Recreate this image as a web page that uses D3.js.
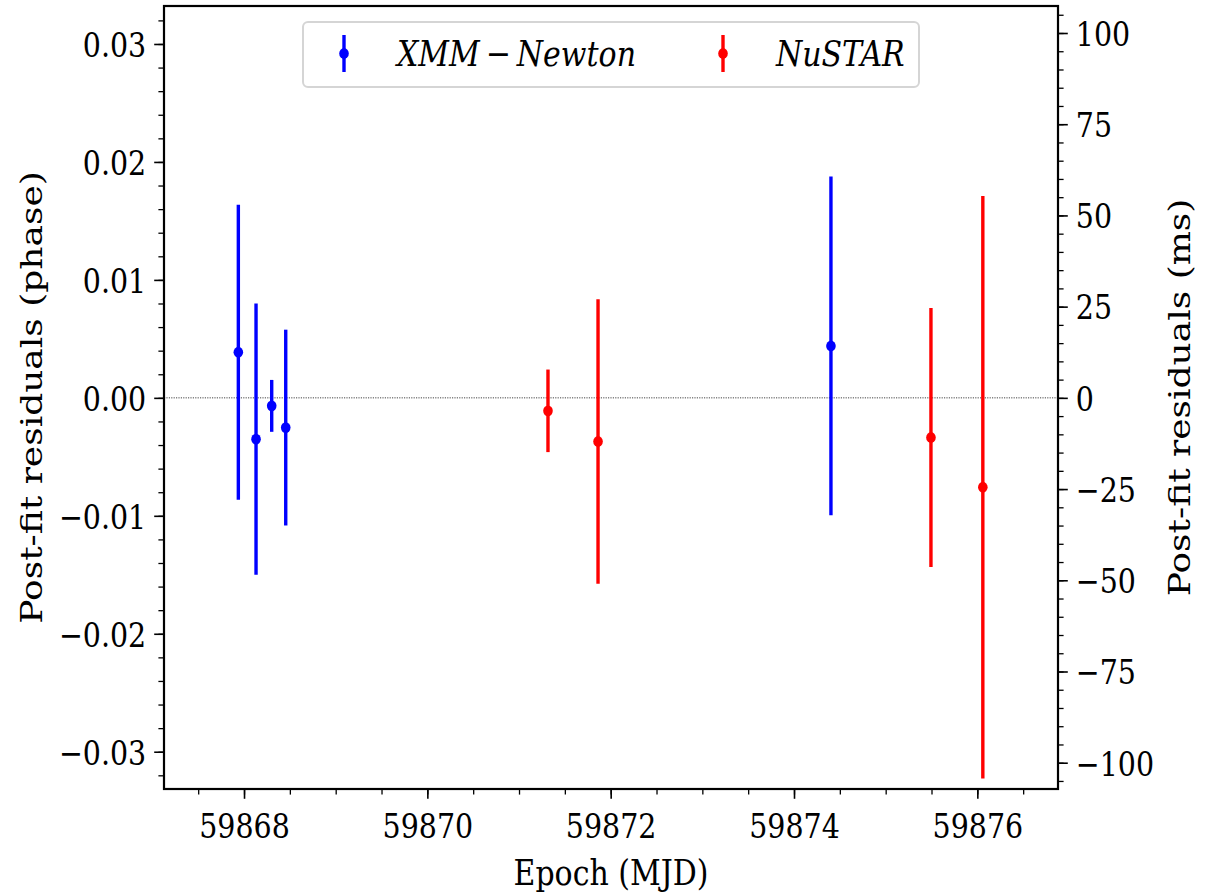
<!DOCTYPE html>
<html><head><meta charset="utf-8">
<script src="https://cdn.jsdelivr.net/npm/d3@7"></script>
<style>body{margin:0;background:#fff}svg{display:block}text{font-family:"DejaVu Serif",serif;fill:#000}</style>
</head><body><svg id="c" width="1215" height="893"></svg>
<script>
// ---- data ----
const xmmEpoch = [59867.938, 59868.131, 59868.302, 59868.455, 59874.403];
const xmmResid = [0.00387, -0.00350, -0.00068, -0.00252, 0.00440];
const xmmErr   = [0.01250, 0.01150, 0.00220, 0.00830, 0.01436];
const nuEpoch  = [59871.316, 59871.862, 59875.494, 59876.060];
const nuResid  = [-0.00110, -0.00370, -0.00336, -0.00758];
const nuErr    = [0.00350, 0.01206, 0.01097, 0.02470];
const xTicks = [59868, 59870, 59872, 59874, 59876];
const yTicksPhase = [-0.03, -0.02, -0.01, 0.00, 0.01, 0.02, 0.03];
const yTicksMs = [-100, -75, -50, -25, 0, 25, 50, 75, 100];
const periodMs = 3233;
const seriesNames = ["XMM\u2009\u2212\u2009Newton", "NuSTAR"];
const seriesColors = ["#0000ff", "#ff0000"];

const W = 1215, H = 893;
const m = {l:164, t:6, r:157, b:104};
const S = 1.2; // vertical stretch of glyphs
const svg = d3.select("#c");
const x = d3.scaleLinear().domain([59867.127, 59876.88]).range([m.l, W - m.r]);
const y = d3.scaleLinear().domain([-0.03316, 0.03322]).range([H - m.b, m.t]);
const y2 = d3.scaleLinear().domain(y.domain().map(d => d * periodMs)).range(y.range());

const fs = 28.5, fl = 30;
const fmt = d => d3.format(".2f")(d).replace("-", "\u2212");
const fmtI = d => String(d).replace("-", "\u2212");

function styleAxis(g, minorG, kind) {
  g.select(".domain").remove();
  g.selectAll(".tick line").attr("stroke", "#000").attr("stroke-width", 1.6);
  const t = g.selectAll(".tick text").attr("font-size", fs).attr("font-family", "DejaVu Serif");
  if (kind === "bottom") {
    t.attr("dy", 0).attr("y", 49 / S).attr("transform", `scale(1,${S})`);
  } else {
    t.attr("dy", "0.36em").attr("y", 0).attr("transform", `scale(1,${S})`);
  }
  minorG.select(".domain").remove();
  minorG.selectAll(".tick line").attr("stroke", "#000").attr("stroke-width", 1.3);
  minorG.selectAll(".tick text").remove();
}

// zero line
svg.append("line").attr("x1", m.l).attr("x2", W - m.r).attr("y1", y(0)).attr("y2", y(0))
  .attr("stroke", "#444").attr("stroke-width", 1).attr("stroke-dasharray", "1.2,1.2");

// x axis
const xMinor = d3.range(59867.5, 59877, 0.5);
const gxm = svg.append("g").attr("transform", `translate(0,${H - m.b})`)
  .call(d3.axisBottom(x).tickValues(xMinor).tickSize(5.6).tickFormat(""));
const gx = svg.append("g").attr("transform", `translate(0,${H - m.b})`)
  .call(d3.axisBottom(x).tickValues(xTicks).tickSize(9.8).tickPadding(8).tickFormat(d3.format("d")));
styleAxis(gx, gxm, "bottom");

// left y axis
const yMinor = d3.range(-0.032, 0.0331, 0.002);
const gym = svg.append("g").attr("transform", `translate(${m.l},0)`)
  .call(d3.axisLeft(y).tickValues(yMinor).tickSize(5.6).tickFormat(""));
const gy = svg.append("g").attr("transform", `translate(${m.l},0)`)
  .call(d3.axisLeft(y).tickValues(yTicksPhase).tickSize(9.8).tickPadding(8).tickFormat(fmt));
styleAxis(gy, gym, "left");

// right y axis
const y2Minor = d3.range(-105, 106, 5);
const gy2m = svg.append("g").attr("transform", `translate(${W - m.r},0)`)
  .call(d3.axisRight(y2).tickValues(y2Minor).tickSize(5.6).tickFormat(""));
const gy2 = svg.append("g").attr("transform", `translate(${W - m.r},0)`)
  .call(d3.axisRight(y2).tickValues(yTicksMs).tickSize(9.8).tickPadding(8).tickFormat(fmtI));
styleAxis(gy2, gy2m, "right");

// frame
svg.append("rect").attr("x", m.l).attr("y", m.t).attr("width", W - m.l - m.r).attr("height", H - m.t - m.b)
  .attr("fill", "none").attr("stroke", "#000").attr("stroke-width", 2.2);

// series
function drawSeries(ep, res, err, color) {
  const g = svg.append("g");
  ep.forEach((e, i) => {
    g.append("line").attr("x1", x(e)).attr("x2", x(e))
      .attr("y1", y(res[i] - err[i])).attr("y2", y(res[i] + err[i]))
      .attr("stroke", color).attr("stroke-width", 3.4);
    g.append("ellipse").attr("cx", x(e)).attr("cy", y(res[i])).attr("rx", 4.8).attr("ry", 5.4).attr("fill", color);
  });
}
drawSeries(xmmEpoch, xmmResid, xmmErr, seriesColors[0]);
drawSeries(nuEpoch, nuResid, nuErr, seriesColors[1]);

// legend
const lg = svg.append("g");
lg.append("rect").attr("x", 303).attr("y", 22).attr("width", 616).attr("height", 65).attr("rx", 5)
  .attr("fill", "#fff").attr("fill-opacity", 0.8).attr("stroke", "#d5d5d5").attr("stroke-width", 2);
const legX = [344, 723], legT = [397, 776];
seriesNames.forEach((n, i) => {
  lg.append("line").attr("x1", legX[i]).attr("x2", legX[i]).attr("y1", 35).attr("y2", 72)
    .attr("stroke", seriesColors[i]).attr("stroke-width", 3.4);
  lg.append("ellipse").attr("cx", legX[i]).attr("cy", 53.5).attr("rx", 4.8).attr("ry", 5.4).attr("fill", seriesColors[i]);
  lg.append("text").attr("transform", `translate(${legT[i]},66) scale(1,${S})`)
    .attr("font-size", fl).attr("font-style", "italic").text(n);
});

// axis labels
svg.append("text").attr("transform", `translate(${(m.l + W - m.r) / 2},885) scale(1,${S})`).attr("text-anchor", "middle")
  .attr("font-size", fl).text("Epoch (MJD)");
svg.append("text").attr("transform", `translate(42,${(m.t + H - m.b) / 2}) rotate(-90) scale(${S},1)`).attr("text-anchor", "middle")
  .attr("font-size", fl).text("Post-fit residuals (phase)");
svg.append("text").attr("transform", `translate(1190,${(m.t + H - m.b) / 2}) rotate(-90) scale(${S},1)`).attr("text-anchor", "middle")
  .attr("font-size", fl).text("Post-fit residuals (ms)");
</script></body></html>
